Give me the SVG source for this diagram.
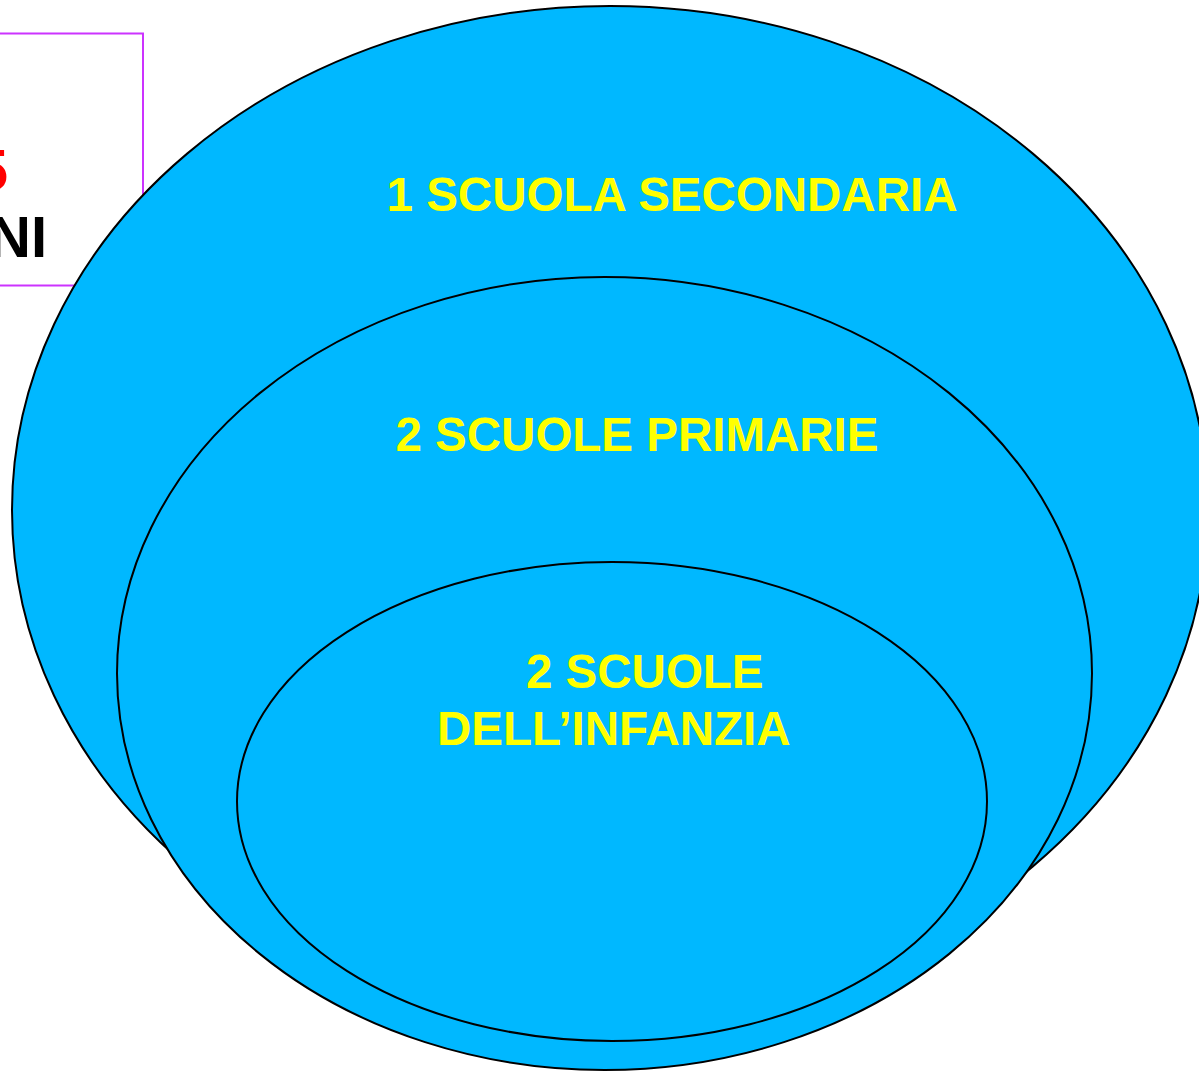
<svg xmlns="http://www.w3.org/2000/svg" width="1199" height="1071" viewBox="0 0 1199 1071">
<style>
.ell{fill:#00b8ff;stroke:#000;stroke-width:2}
.lbl{font-family:"Liberation Sans",Arial,sans-serif;font-weight:bold;font-size:47.5px;fill:#ffff00}
.side{font-family:"Liberation Sans",Arial,sans-serif;font-weight:bold;font-size:58px}
</style>
<rect width="1199" height="1071" fill="#fff"/>
<g id="box">
<rect x="-10" y="33.5" width="153" height="252" fill="#fff" stroke="#cc33ff" stroke-width="2"/>
<text class="side" x="8" y="190" text-anchor="end" fill="#ff0000">5</text>
<text class="side" x="47" y="257" text-anchor="end" fill="#000">NI</text>
</g>
<g id="outer">
<ellipse class="ell" cx="610" cy="510" rx="598" ry="504"/>
<text class="lbl" x="672" y="211" text-anchor="middle">1 SCUOLA SECONDARIA</text>
</g>
<g id="middle">
<ellipse class="ell" cx="604.5" cy="673.5" rx="487.5" ry="396.5"/>
<text class="lbl" x="637" y="451" text-anchor="middle">2 SCUOLE PRIMARIE</text>
</g>
<g id="inner">
<ellipse class="ell" cx="612" cy="801.5" rx="375" ry="239.5"/>
<text class="lbl" x="526" y="688">2 SCUOLE</text>
<text class="lbl" x="437" y="745">DELL’INFANZIA</text>
</g>
<g id="connectors"/>
</svg>
